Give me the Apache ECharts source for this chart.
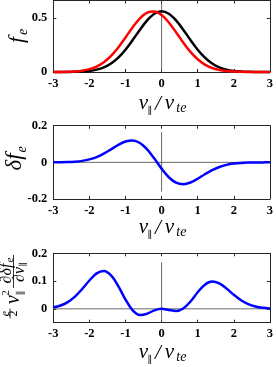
<!DOCTYPE html>
<html><head><meta charset="utf-8">
<script src="https://cdn.jsdelivr.net/npm/echarts@6/dist/echarts.min.js"></script>
<style>html,body{margin:0;padding:0;background:#fff}#c{width:276px;height:367px}</style>
</head><body><div id="c"></div>
<script>
// v_par / v_te sample points
const vPar = [-3,-2.8,-2.6,-2.4,-2.2,-2,-1.8,-1.6,-1.4,-1.2,-1,-0.8,-0.6,-0.4,-0.2,0,0.2,0.4,0.6,0.8,1,1.2,1.4,1.6,1.8,2,2.2,2.4,2.6,2.8,3];
// panel 1: black and red distributions
const fBlack = [0.00007,0.00022,0.00065,0.00178,0.00446,0.01033,0.02209,0.04361,0.07947,0.13368,0.20756,0.2975,0.39363,0.48078,0.54208,0.56419,0.54208,0.48078,0.39363,0.2975,0.20756,0.13368,0.07947,0.04361,0.02209,0.01033,0.00446,0.00178,0.00065,0.00022,0.00007];
const fRed = [0.00029,0.00085,0.00226,0.00555,0.01259,0.02639,0.05105,0.09118,0.15034,0.22881,0.32147,0.41693,0.49915,0.55164,0.56278,0.53001,0.46077,0.36978,0.27393,0.18734,0.11826,0.06892,0.03707,0.01841,0.00844,0.00357,0.0014,0.0005,0.00017,0.00005,0.00002];
// panel 2: delta f_e
const deltaF = [0.00022,0.00063,0.00161,0.00377,0.00813,0.01606,0.02896,0.04757,0.07087,0.09513,0.11391,0.11943,0.10552,0.07086,0.0207,-0.03418,-0.08131,-0.111,-0.1197,-0.11016,-0.0893,-0.06476,-0.0424,-0.0252,-0.01365,-0.00676,-0.00306,-0.00128,-0.00048,-0.00017,-0.00005];
// panel 3: (e/2) v^2 d(delta f)/dv
const fluxTerm = [0.00537,0.01203,0.02434,0.0441,0.07135,0.10204,0.12754,0.1365,0.1208,0.08202,0.03355,-0.00556,-0.02213,-0.01753,-0.00546,0,-0.00396,-0.00769,0.0012,0.02643,0.05973,0.08709,0.09818,0.09145,0.07279,0.05053,0.03096,0.0169,0.00823,0.00365,0.00145];
// ticks
const xTicks = [-3,-2,-1,0,1,2,3];
const yTicks1 = [0,0.5];
const yTicks2 = [-0.2,0,0.2];
const yTicks3 = [0,0.1,0.2];
const yRange1 = [0,0.665];
const yRange2 = [-0.2,0.2];
const yRange3 = [-0.05,0.2];

const chart = echarts.init(document.getElementById('c'), null, {renderer:'canvas'});
const AX = '#262626';
const SERIF = 'Liberation Serif';
const grids = [
  {left:53.3, top:0.5, width:219, height:71.5},
  {left:53.3, top:125.7, width:219, height:73.3},
  {left:53.3, top:253.3, width:219, height:69.4}
];
const yTicksAll = [yTicks1,yTicks2,yTicks3];
const yRanges = [yRange1,yRange2,yRange3];
const xAxes = [], yAxes = [];
grids.forEach((g,i)=>{
  xAxes.push({type:'value', gridIndex:i, min:-3, max:3, position:'bottom',
    axisLine:{show:true,onZero:false,lineStyle:{color:AX,width:1}},
    axisTick:{show:true,inside:true,length:3,customValues:xTicks,lineStyle:{color:AX}},
    axisLabel:{show:true,customValues:xTicks,margin:5,color:'#000',fontFamily:SERIF,fontWeight:'bold',fontSize:12.5},
    splitLine:{show:false}});
  xAxes.push({type:'value', gridIndex:i, min:-3, max:3, position:'top',
    axisLine:{show:true,onZero:false,lineStyle:{color:AX,width:1}},
    axisTick:{show:true,inside:true,length:3,customValues:xTicks,lineStyle:{color:AX}},
    axisLabel:{show:false}, splitLine:{show:false}});
  yAxes.push({type:'value', gridIndex:i, min:yRanges[i][0], max:yRanges[i][1], position:'left',
    axisLine:{show:true,onZero:false,lineStyle:{color:AX,width:1}},
    axisTick:{show:true,inside:true,length:3,customValues:yTicksAll[i],lineStyle:{color:AX}},
    axisLabel:{show:true,customValues:yTicksAll[i],margin:6,color:'#000',fontFamily:SERIF,fontWeight:'bold',fontSize:12.5},
    splitLine:{show:false}});
  yAxes.push({type:'value', gridIndex:i, min:yRanges[i][0], max:yRanges[i][1], position:'right',
    axisLine:{show:true,onZero:false,lineStyle:{color:AX,width:1}},
    axisTick:{show:true,inside:true,length:3,customValues:yTicksAll[i],lineStyle:{color:AX}},
    axisLabel:{show:false}, splitLine:{show:false}});
});
const pair = arr => vPar.map((v,k)=>[v,arr[k]]);
const refLine = (i, data) => ({type:'line', xAxisIndex:2*i, yAxisIndex:2*i, data, symbol:'none', silent:true,
  lineStyle:{color:'#444', width:0.8}, z:1, animation:false});
const curve = (i, arr, color) => ({type:'line', xAxisIndex:2*i, yAxisIndex:2*i, data:pair(arr), symbol:'none',
  smooth:0.35, clip:false, lineStyle:{color, width:2.5}, z:3, animation:false});

const series = [
  refLine(0, [[0,0],[0,yRange1[1]]]),
  curve(0, fBlack, '#000000'),
  curve(0, fRed, '#ff0000'),
  refLine(1, [[-3,0],[3,0]]),
  refLine(1, [[0,-0.16],[0,0.165]]),
  curve(1, deltaF, '#0000ff'),
  refLine(2, [[-3,0],[3,0]]),
  refLine(2, [[0,yRange3[0]],[0,0.168]]),
  curve(2, fluxTerm, '#0000ff')
];

function txt(x,y,text,size,italic,extra){
  return Object.assign({type:'text', x, y, silent:true, style:{text, fill:'#000',
    font:(italic?'italic ':'')+size+'px "'+SERIF+'", "DejaVu Serif", serif',
    align:'center', verticalAlign:'middle', textAlign:'center', textVerticalAlign:'middle'}}, extra||{});
}
function bar(x1,y1,x2,y2){
  return {type:'line', silent:true, shape:{x1,y1,x2,y2}, style:{stroke:'#000', lineWidth:0.8}};
}
function xLabel(cx, ym){
  return [
    txt(cx-19.5, ym, 'v', 21, true),
    txt(cx-13, ym+8, '\u2225', 10, false),
    txt(cx-5, ym+1, '/', 21, true),
    txt(cx+6.5, ym, 'v', 21, true),
    txt(cx+18.5, ym+5, 'te', 14, true)
  ];
}
const cx = 53.3 + 219/2;
const graphic = [].concat(
  xLabel(cx, 103), xLabel(cx, 227), xLabel(cx, 352),
  [
    {type:'group', x:17, y:40, rotation:Math.PI/2, children:[
      txt(0,0,'f',22,true), txt(8,6,'e',14,true)
    ]},
    {type:'group', x:15, y:162, rotation:Math.PI/2, children:[
      txt(0,0,'\u03b4f',23,true), txt(12.5,7,'e',14,true)
    ]},
    {type:'group', x:14, y:288, rotation:Math.PI/2, children:[
      txt(-25.5,-8.5,'e',12,true), bar(-20.5,-4,-30.5,-4), txt(-25.5,0,'2',12,false),
      txt(-11.5,0,'v',20,true), txt(-5,-8,'2',11,false), txt(-5,7,'\u2225',10,false),
      txt(14.5,-7,'\u2202\u03b4f',16,true), txt(28,-3.5,'e',11,true),
      bar(0,-0.5,33,-0.5),
      txt(13.5,6,'\u2202v',16,true), txt(23.5,9.5,'\u2225',9,false)
    ]}
  ]
);

chart.setOption({
  animation:false,
  backgroundColor:'#fff',
  grid: grids,
  xAxis: xAxes,
  yAxis: yAxes,
  series,
  graphic
});
</script>
</body></html>
